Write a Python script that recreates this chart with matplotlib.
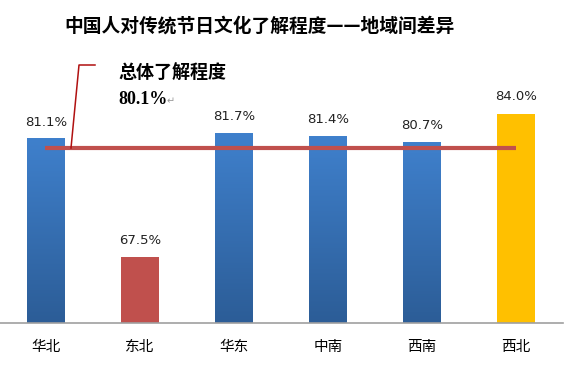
import numpy as np
import matplotlib.pyplot as plt
from matplotlib.colors import LinearSegmentedColormap

plt.rcParams['font.family'] = ['Noto Sans CJK SC', 'DejaVu Sans']

# data
regions = ['华北', '东北', '华东', '中南', '西南', '西北']
values = [81.1, 67.5, 81.7, 81.4, 80.7, 84.0]
overall = 80.1
bar_kind = ['blue', 'red', 'blue', 'blue', 'blue', 'yellow']

fig = plt.figure(figsize=(5.66, 3.73), dpi=100)
ax = fig.add_axes([0, 50 / 373, 563 / 566, 283 / 373])

ymin = 59.9
ax.set_ylim(ymin, 92.5)
ax.set_xlim(-0.49, 5.5)

blue_grad = LinearSegmentedColormap.from_list('bg', ['#2c5d97', '#3f80cc'])
w = 0.40
for i, (v, k) in enumerate(zip(values, bar_kind)):
    if k == 'blue':
        grad = np.linspace(0, 1, 100).reshape(-1, 1)
        ax.imshow(grad, extent=[i - w / 2, i + w / 2, ymin, v], origin='lower',
                  cmap=blue_grad, aspect='auto', zorder=2)
    else:
        c = '#c0504d' if k == 'red' else '#ffc000'
        ax.bar(i, v - ymin, bottom=ymin, width=w, color=c, zorder=2)
    ax.text(i, v + 1.2, f'{v:.1f}%', ha='center', va='bottom', fontsize=9.5,
            family='DejaVu Sans', color='#222222')

# overall line
ax.plot([-0.01, len(values) - 1], [overall, overall], color='#c0504d', lw=3, zorder=3,
        solid_capstyle='butt')

ax.set_xticks(range(len(regions)))
ax.set_xticklabels(regions, fontsize=10.5)
ax.tick_params(axis='x', length=0, pad=12)
ax.set_yticks([])
for s in ['top', 'left', 'right']:
    ax.spines[s].set_visible(False)
ax.spines['bottom'].set_color('#a0a0a0')
ax.spines['bottom'].set_linewidth(1.2)

# callout
fx = lambda px: px / 566
fy = lambda py: 1 - py / 373
fig.add_artist(plt.Line2D([fx(71), fx(79), fx(95)], [fy(148), fy(65), fy(65)],
                          color='#b01010', lw=1.1, transform=fig.transFigure))
fig.text(fx(118), fy(73), '总体了解程度', fontsize=13, fontweight='bold', va='center')
fig.text(fx(118), fy(100), '80.1%', fontsize=13, fontweight='bold', va='center',
         family='Liberation Serif')
fig.text(fx(167), fy(101), '↵', fontsize=7, color='#999999', va='center',
         family='DejaVu Sans')

fig.text(fx(260), fy(26), '中国人对传统节日文化了解程度——地域间差异', ha='center', va='center',
         fontsize=13.5, fontweight='bold')

fig.savefig('out.png', dpi=100, facecolor='white')
